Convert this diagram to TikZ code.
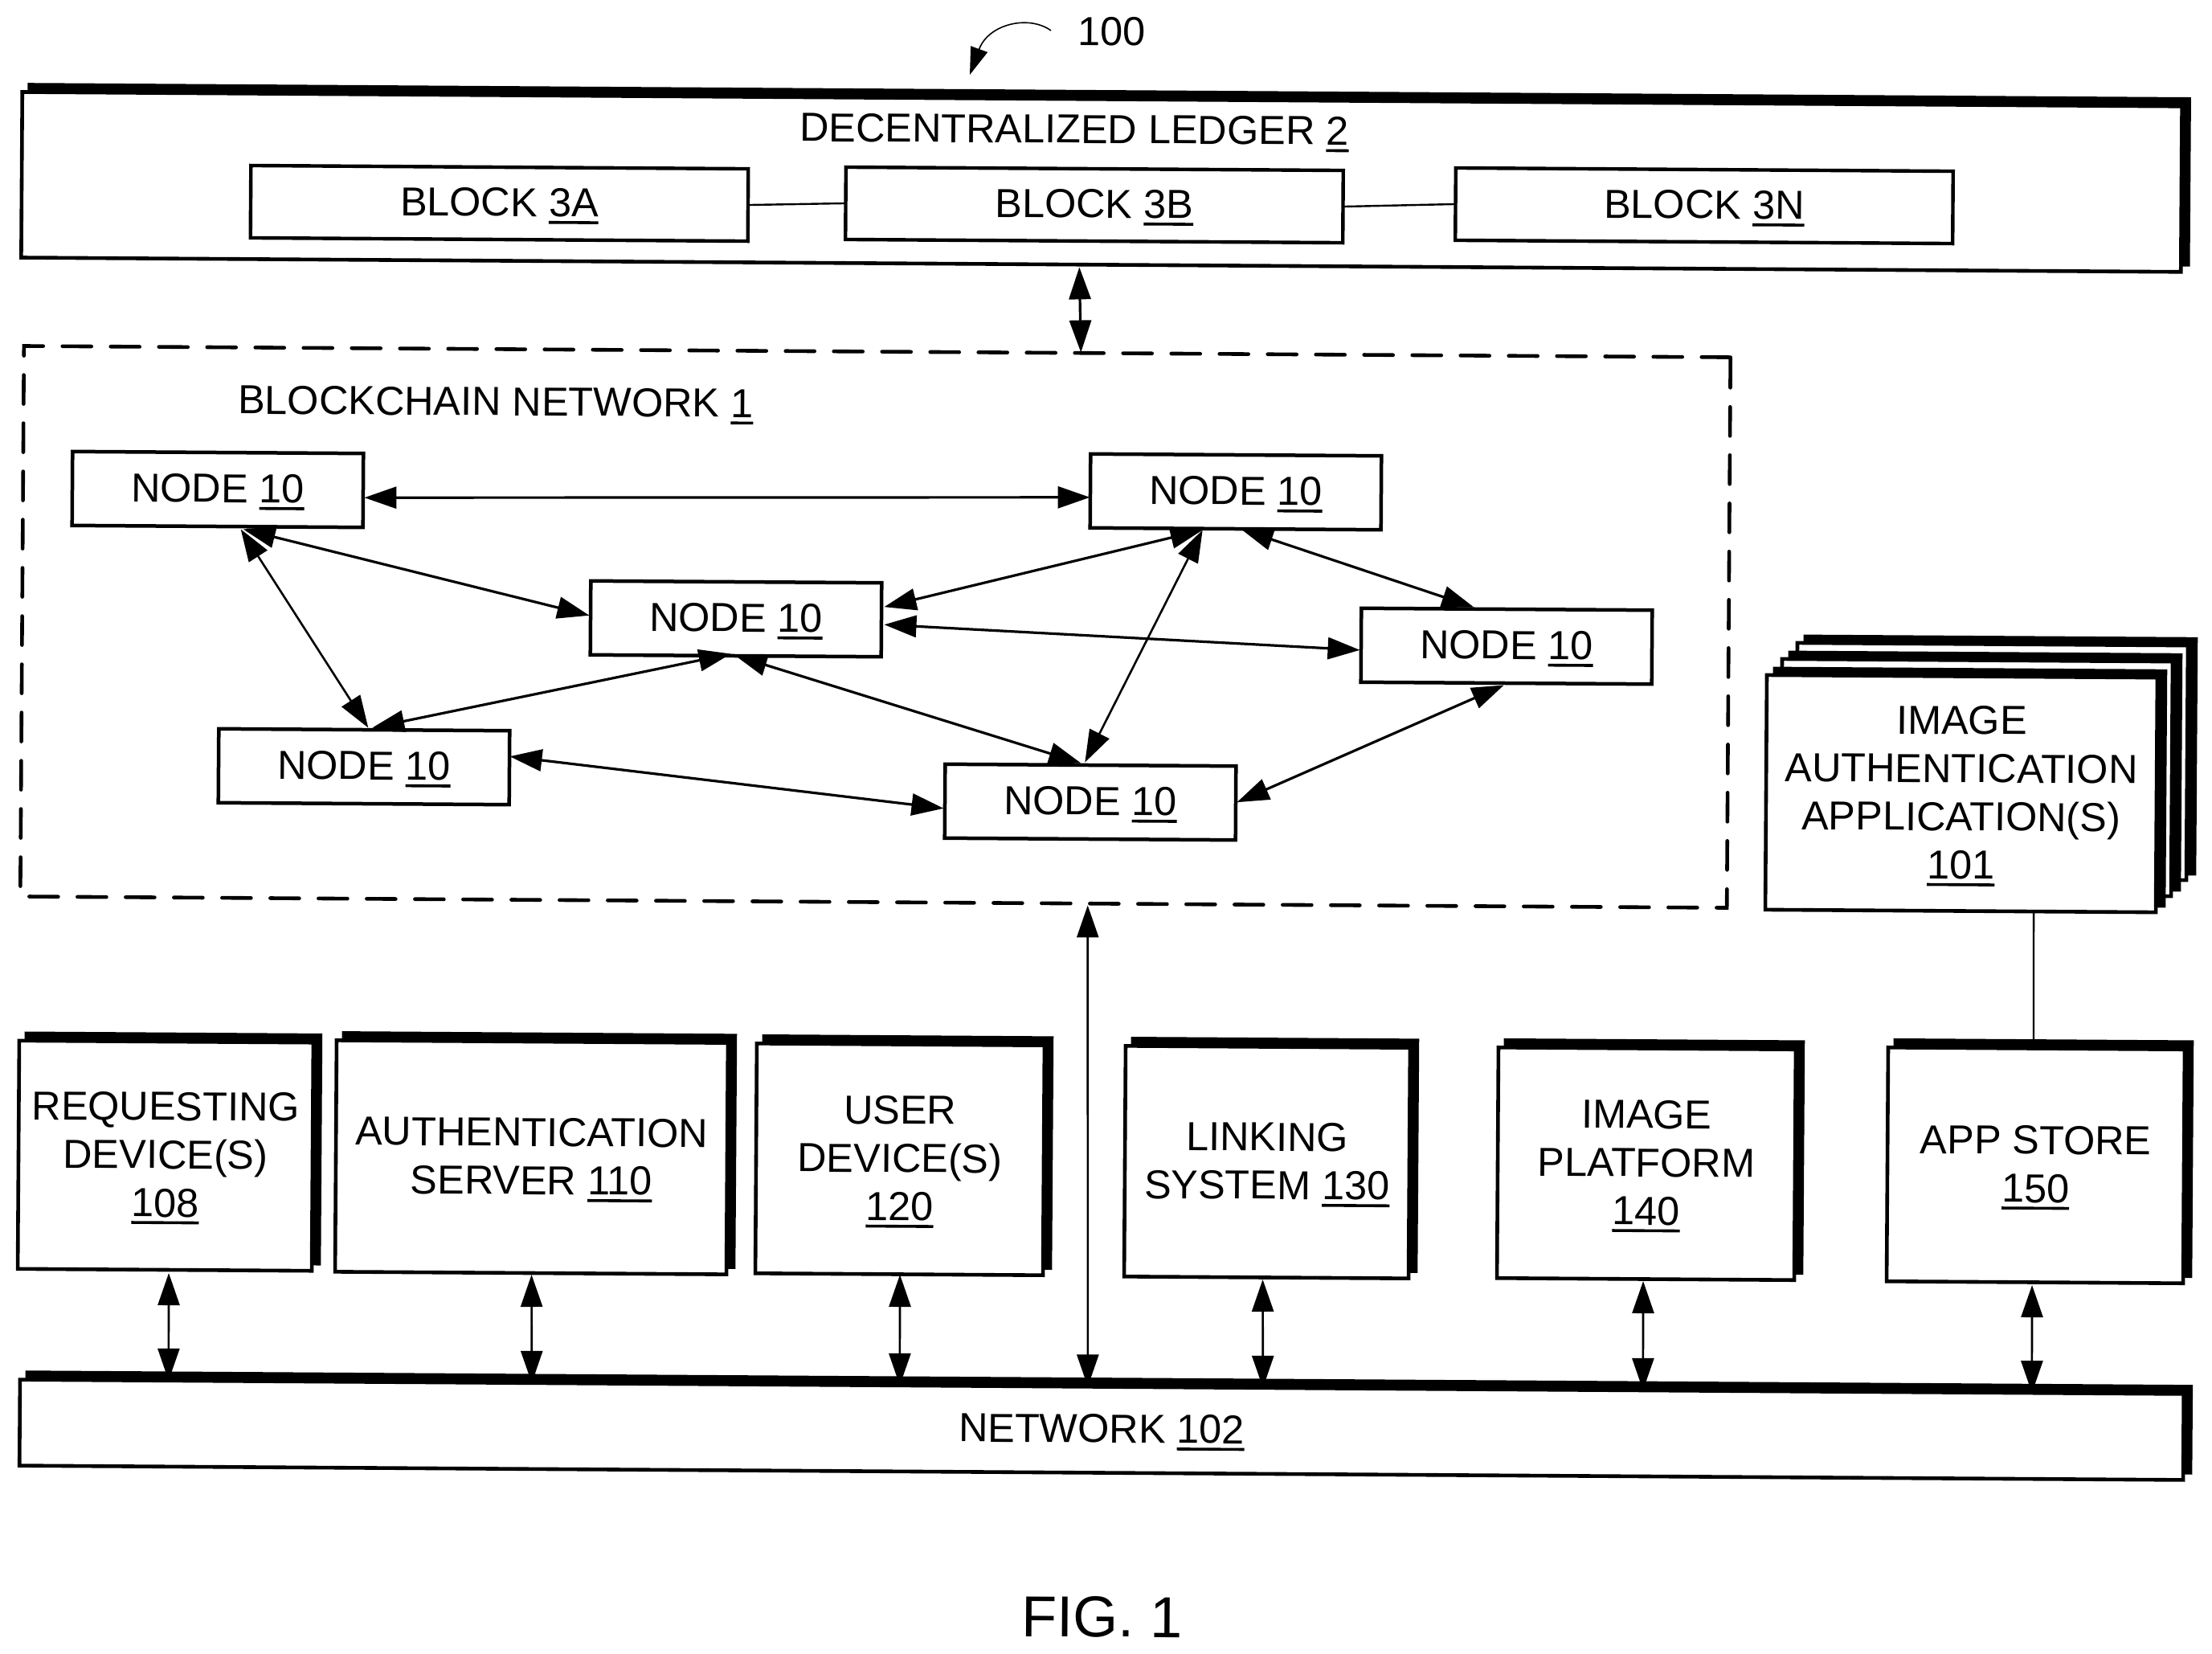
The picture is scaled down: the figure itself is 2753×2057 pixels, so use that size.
\documentclass[tikz,border=0pt]{standalone}
\usepackage{fontspec}
\setmainfont{Liberation Sans}
\usetikzlibrary{arrows.meta}
\newcommand{\ulx}[1]{\setbox0\hbox{#1}\leavevmode\rlap{\smash{\rule[-4.5pt]{\wd0}{1.8pt}}}\rule[-1.5pt]{0pt}{0pt}\box0}
% [shadow offset] name, x, y, w, h, text
\newcommand{\shbox}[7][9,-9]{%
  \node[shadowpart,minimum width=#5,minimum height=#6] (#2s) at ([shift={(#1)}]#3,#4) {};
  \node[frontpart,minimum width=#5,minimum height=#6] (#2) at (#3,#4) {#7};
}
\tikzset{
  tilt/.style={rotate=-0.38,inner sep=0pt,outer sep=0pt},
  label/.style={tilt,font=\fontsize{25.2}{30}\selectfont,align=center},
  shadowpart/.style={tilt,draw=black,line width=2.3pt,fill=black},
  frontpart/.style={label,draw=black,line width=2.3pt,fill=white},
  blockbox/.style={label,draw=black,line width=2.2pt,fill=white,minimum width=309.5pt,minimum height=45pt},
  nodebox/.style={label,draw=black,line width=2.25pt,fill=white,minimum width=181pt,minimum height=46pt},
  head/.style={>={Triangle[length=20pt,width=13.5pt]}},
  dbl/.style={head,<->,line width=1.6pt},
  dblthin/.style={head,<->,line width=1.3pt},
  link/.style={line width=1.2pt},
}
\begin{document}
\begin{tikzpicture}[x=0.5pt,y=-0.5pt]
\useasboundingbox (0,0) rectangle (2753,2057);
\fill[white] (0,0) rectangle (2753,2057);

% title reference
\node[label] (ref) at (1384,39) {100};
\coordinate (refa) at (1308,38);
\coordinate (refb) at (1207,93);
\draw[>={Triangle[length=17pt,width=11pt]},->,line width=0.8pt] (refa) .. controls (1280,18) and (1230,30) .. (refb);

% ledger
\shbox{ledger}{1371}{226.4}{1344pt}{103pt}{}
\node[label] (ledgertxt) at (1337,162) {DECENTRALIZED LEDGER \ulx{2}};
\node[blockbox] (b3a) at (621.5,253) {BLOCK \ulx{3A}};
\node[blockbox] (b3b) at (1362,255) {BLOCK \ulx{3B}};
\node[blockbox] (b3n) at (2121,256) {BLOCK \ulx{3N}};
\draw[link] (b3a.east) -- (b3b.west);
\draw[link] (b3b.east) -- (b3n.west);

% blockchain network
\node[tilt,draw=black,line width=2.3pt,line cap=round,dash pattern=on 18pt off 12pt,minimum width=1062pt,minimum height=342.5pt] (chain) at (1089.5,780) {};
\node[label] (chaintxt) at (617,501) {BLOCKCHAIN NETWORK \ulx{1}};

\node[nodebox] (n1) at (271,609) {NODE \ulx{10}};
\node[nodebox] (n2) at (1538,612) {NODE \ulx{10}};
\node[nodebox] (n3) at (916,770) {NODE \ulx{10}};
\node[nodebox] (n4) at (1875,804) {NODE \ulx{10}};
\node[nodebox] (n5) at (453,954) {NODE \ulx{10}};
\node[nodebox] (n6) at (1357,998) {NODE \ulx{10}};

\draw[dbl] ([shift={(1.5,9)}]n1.east) -- ([shift={(-0.5,8)}]n2.west);
\draw[dbl] ([shift={(32,3.5)}]n1.south) -- ([shift={(-1.5,-3)}]n3.west);
\draw[dblthin] ([shift={(29,3.5)}]n1.south) -- ([shift={(5,-2.5)}]n5.north);
\draw[dbl] ([shift={(10,-2.5)}]n5.north) -- ([shift={(-6,-2.5)}]n3.south);
\draw[dbl] ([shift={(-1,-0.5)}]n3.south) -- ([shift={(-12,-2.5)}]n6.north);
\draw[dbl] ([shift={(3.5,-16)}]n3.east) -- ([shift={(-41,1.5)}]n2.south);
\draw[dblthin] ([shift={(-7,-3.5)}]n6.north) -- ([shift={(-41,1.5)}]n2.south);
\draw[dbl] ([shift={(7,0.5)}]n2.south) -- ([shift={(-41,-2.5)}]n4.north);
\draw[dbl] ([shift={(3.5,6)}]n3.east) -- ([shift={(-1.5,6)}]n4.west);
\draw[dbl] ([shift={(-3,2.5)}]n4.south) -- ([shift={(1.5,-1)}]n6.east);
\draw[dbl] ([shift={(0.5,-14)}]n5.east) -- ([shift={(-1.5,9)}]n6.west);

% application stack
\shbox[10,-8]{app3}{2479}{947.5}{243pt}{146pt}{}
\shbox[10,-8]{app2}{2460}{967.5}{243pt}{146pt}{}
\shbox[10,-8]{app1}{2441}{987.5}{243pt}{146pt}{IMAGE\\AUTHENTICATION\\APPLICATION(S)\\\ulx{101}}

% lower boxes
\shbox{b108}{206}{1438}{183pt}{142pt}{REQUESTING\\DEVICE(S)\\\ulx{108}}
\shbox{b110}{661.5}{1440}{243.5pt}{144pt}{AUTHENTICATION\\SERVER \ulx{110}}
\shbox{b120}{1120}{1442.5}{179pt}{143pt}{USER\\DEVICE(S)\\\ulx{120}}
\shbox{b130}{1577}{1446}{177pt}{143.5pt}{LINKING\\SYSTEM \ulx{130}}
\shbox{b140}{2049}{1448}{185pt}{143.5pt}{IMAGE\\PLATFORM\\\ulx{140}}
\shbox{b150}{2533.5}{1450}{184.5pt}{145.5pt}{APP STORE\\\ulx{150}}
\shbox{net}{1371}{1779}{1346.5pt}{53.5pt}{NETWORK \ulx{102}}

% connectors
\draw[dbl] ([shift={(-27,3)}]ledger.south) -- ([shift={(253.5,1)}]chain.north);
\draw[dblthin] ([shift={(5,4)}]b108.south) -- ([shift={(-1161.5,-7.7)}]net.north);
\draw[dblthin] ([shift={(1,2)}]b110.south) -- ([shift={(-709.5,-4.7)}]net.north);
\draw[dblthin] ([shift={(1,0.5)}]b120.south) -- ([shift={(-251.5,-1.6)}]net.north);
\draw[dblthin] ([shift={(266.5,4)}]chain.south) -- ([shift={(-17.5,-0.1)}]net.north);
\draw[dblthin] ([shift={(-4.5,2.5)}]b130.south) -- ([shift={(200.5,1.3)}]net.north);
\draw[dblthin] ([shift={(-3,2.5)}]b140.south) -- ([shift={(673.5,4.4)}]net.north);
\draw[dblthin] ([shift={(-3.5,3.5)}]b150.south) -- ([shift={(1157.5,7.6)}]net.north);
\draw[link] ([shift={(91,1.5)}]app1.south) -- ([shift={(-3.5,-11.5)}]b150.north);

\node[tilt,font=\fontsize{36}{42}\selectfont] (fig) at (1372,2012) {FIG. 1};
\end{tikzpicture}
\end{document}
